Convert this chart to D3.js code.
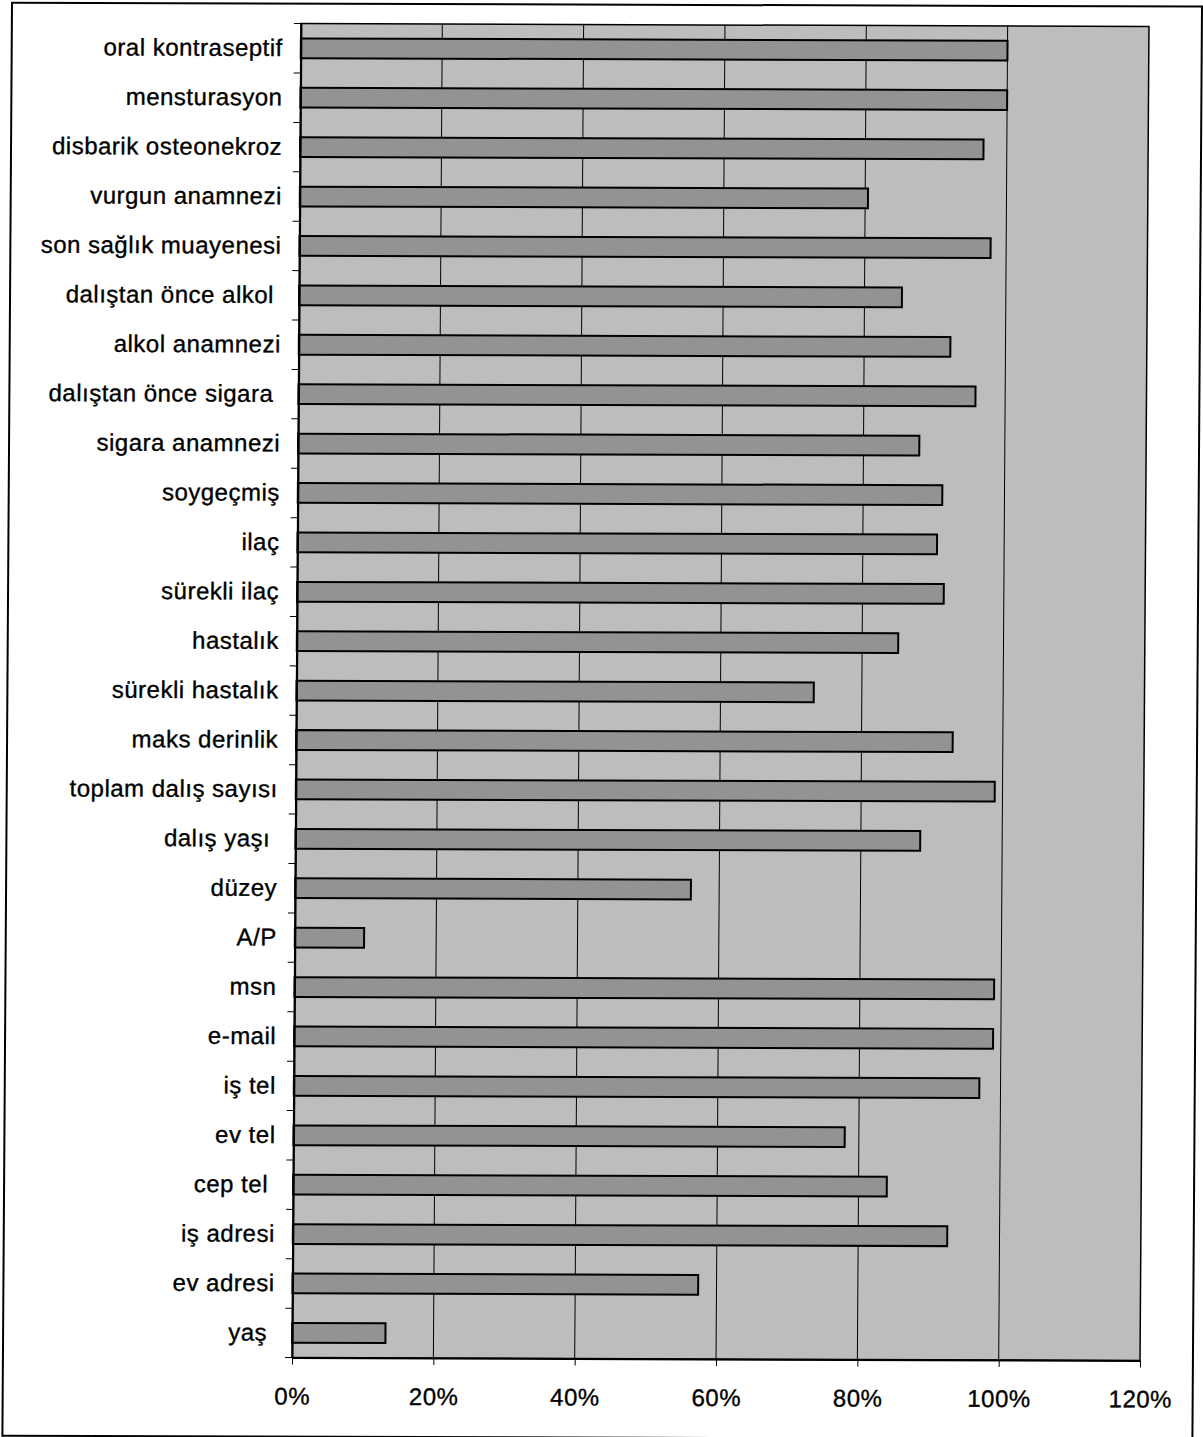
<!DOCTYPE html>
<html>
<head>
<meta charset="utf-8">
<script src="https://cdn.jsdelivr.net/npm/d3@7"></script>
<style>
  html, body { margin: 0; padding: 0; background: #fff; }
  svg { display: block; }
  .lbl text { font-family: "Liberation Sans", Arial, sans-serif; font-size: 24px; letter-spacing: 0.5px; fill: #000; stroke: #000; stroke-width: 0.35px; white-space: pre; }
</style>
</head>
<body>
<script>
// Category labels, top to bottom
const categories = [
  "oral kontraseptif", "mensturasyon", "disbarik osteonekroz", "vurgun anamnezi",
  "son sağlık muayenesi", "dalıştan önce alkol ", "alkol anamnezi", "dalıştan önce sigara ",
  "sigara anamnezi", "soygeçmiş", "ilaç", "sürekli ilaç", "hastalık", "sürekli hastalık",
  "maks derinlik", "toplam dalış sayısı", "dalış yaşı ", "düzey", "A/P", "msn", "e-mail",
  "iş tel", "ev tel", "cep tel ", "iş adresi", "ev adresi", "yaş "
];

// Share of forms with the field filled in (%)
const values = [
  100, 100, 96.7, 80.4, 97.8, 85.3, 92.2, 95.8, 87.9, 91.2, 90.5, 91.5, 85.1, 73.2,
  92.9, 98.9, 88.4, 56.0, 9.8, 99.0, 98.9, 97.0, 78.0, 84.0, 92.6, 57.4, 13.2
];

// Percentage axis ticks
const xTicks = [0, 20, 40, 60, 80, 100, 120];

const W = 1203, H = 1437;
const plot = { left: 296.5, right: 1144.5, top: 25, bottom: 1359 };
const cx = 720.5, cy = 692;

const svg = d3.select("body").append("svg")
  .attr("width", W).attr("height", H);

// slight skew of the whole sheet
const root = svg.append("g")
  .attr("transform", `translate(${cx},${cy}) matrix(1,0.0033,-0.0067,1,0,0) translate(${-cx},${-cy})`);

// outer chart frame
root.append("rect")
  .attr("x", 7.4).attr("y", 5)
  .attr("width", 1197.4 - 7.4).attr("height", 1438 - 5)
  .attr("fill", "none").attr("stroke", "#000").attr("stroke-width", 2);

const x = d3.scaleLinear().domain([0, 120]).range([plot.left, plot.right]);
const y = d3.scaleBand().domain(categories).range([plot.top, plot.bottom])
  .paddingInner(0.6).paddingOuter(0.3);

// plot area background
root.append("rect")
  .attr("x", plot.left).attr("y", plot.top)
  .attr("width", plot.right - plot.left).attr("height", plot.bottom - plot.top)
  .attr("fill", "#bdbdbd");

// vertical gridlines
root.append("g").selectAll("line")
  .data(xTicks.filter(d => d > 0 && d < 120))
  .join("line")
  .attr("x1", d => x(d)).attr("x2", d => x(d))
  .attr("y1", plot.top).attr("y2", plot.bottom)
  .attr("stroke", "#000").attr("stroke-width", 1);

// bars
root.append("g").selectAll("rect")
  .data(categories.map((c, i) => ({ c, v: values[i] })))
  .join("rect")
  .attr("x", x(0))
  .attr("y", d => y(d.c))
  .attr("width", d => x(d.v) - x(0))
  .attr("height", y.bandwidth())
  .attr("fill", "#939393")
  .attr("stroke", "#000").attr("stroke-width", 2);

// plot area border
root.append("rect")
  .attr("x", plot.left).attr("y", plot.top)
  .attr("width", plot.right - plot.left).attr("height", plot.bottom - plot.top)
  .attr("fill", "none").attr("stroke", "#000").attr("stroke-width", 1.5);

// category axis: labels at band centres, tick marks between categories
const yAxis = root.append("g").attr("class", "lbl")
  .attr("transform", `translate(${plot.left},0)`)
  .call(d3.axisLeft(y).tickSize(0).tickPadding(18));
yAxis.select(".domain").attr("stroke", "#000").attr("stroke-width", 2);

const step = y.step();
const bounds = categories.map(c => y(c) - (step - y.bandwidth()) / 2).concat([plot.bottom]);
root.append("g").selectAll("line")
  .data(bounds)
  .join("line")
  .attr("x1", plot.left - 7).attr("x2", plot.left)
  .attr("y1", d => d).attr("y2", d => d)
  .attr("stroke", "#000").attr("stroke-width", 1);

// value axis
const xAxis = root.append("g").attr("class", "lbl")
  .attr("transform", `translate(0,${plot.bottom})`)
  .call(d3.axisBottom(x).tickValues(xTicks).tickFormat(d => d + "%")
    .tickSize(7).tickSizeOuter(0).tickPadding(23));
xAxis.select(".domain").attr("stroke", "#000").attr("stroke-width", 2);
xAxis.selectAll(".tick line").attr("stroke", "#000");
</script>
</body>
</html>
